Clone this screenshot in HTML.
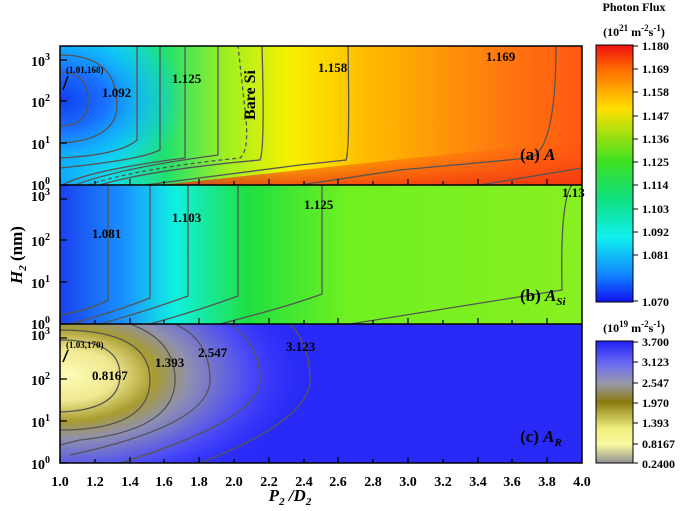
<!DOCTYPE html>
<html><head><meta charset="utf-8"><style>
html,body{margin:0;background:#fff;overflow:hidden;width:685px;height:511px}
svg{display:block}
svg text{font-family:"Liberation Serif",serif;font-weight:bold}
</style></head><body>
<svg width="685" height="511" viewBox="0 0 685 511" xmlns="http://www.w3.org/2000/svg">
<defs>
<clipPath id="cpa"><rect x="60" y="46" width="522" height="139"/></clipPath>
<clipPath id="cpc"><rect x="60" y="324" width="522" height="139"/></clipPath>
<linearGradient id="ga" x1="0" x2="1" y1="0" y2="0">
<stop offset="0" stop-color="#10a0ff"/><stop offset="0.1" stop-color="#10e0e8"/><stop offset="0.2" stop-color="#20e070"/><stop offset="0.32" stop-color="#a0f020"/><stop offset="0.44" stop-color="#f8f000"/><stop offset="0.6" stop-color="#ffb800"/><stop offset="0.85" stop-color="#ff7810"/><stop offset="1" stop-color="#ff5810"/></linearGradient>
<radialGradient id="ra"><stop offset="0" stop-color="#1040f0"/><stop offset="0.35" stop-color="#1a70ff"/><stop offset="0.65" stop-color="#10b0ff" stop-opacity="0.7"/><stop offset="1" stop-color="#10d0ff" stop-opacity="0"/></radialGradient>
<linearGradient id="gar" x1="0" x2="0" y1="0" y2="1"><stop offset="0" stop-color="#ff5010" stop-opacity="0"/><stop offset="1" stop-color="#f03010" stop-opacity="0.8"/></linearGradient>
<linearGradient id="gb" x1="0" x2="1" y1="0" y2="0">
<stop offset="0" stop-color="#1a40f0"/><stop offset="0.12" stop-color="#1a90ff"/><stop offset="0.22" stop-color="#10f0e0"/><stop offset="0.36" stop-color="#20e040"/><stop offset="0.55" stop-color="#70f020"/><stop offset="1" stop-color="#88f020"/></linearGradient>
<radialGradient id="rc"><stop offset="0" stop-color="#fdfdb8"/><stop offset="0.2" stop-color="#f0e890"/><stop offset="0.36" stop-color="#a89c30"/><stop offset="0.5" stop-color="#9090b0"/><stop offset="0.75" stop-color="#4a4af8"/><stop offset="1" stop-color="#2a2af8" stop-opacity="0"/></radialGradient>
<linearGradient id="c1" x1="0" x2="0" y1="0" y2="1">
<stop offset="0" stop-color="#f01010"/><stop offset="0.1" stop-color="#ff7000"/><stop offset="0.25" stop-color="#ffe000"/><stop offset="0.45" stop-color="#40e020"/><stop offset="0.6" stop-color="#10e080"/><stop offset="0.75" stop-color="#10f0f0"/><stop offset="0.9" stop-color="#1080ff"/><stop offset="1" stop-color="#1010f0"/></linearGradient>
<linearGradient id="c2" x1="0" x2="0" y1="0" y2="1">
<stop offset="0" stop-color="#2020f8"/><stop offset="0.2" stop-color="#7070f0"/><stop offset="0.35" stop-color="#9898a8"/><stop offset="0.5" stop-color="#8a7a10"/><stop offset="0.72" stop-color="#f0f080"/><stop offset="0.85" stop-color="#f8f8a0"/><stop offset="1" stop-color="#909090"/></linearGradient>
</defs>
<g clip-path="url(#cpa)">
<rect x="60" y="46" width="522" height="139" fill="url(#ga)"/>
<ellipse cx="62" cy="100" rx="125" ry="85" fill="url(#ra)"/>
<path d="M160,185 L582,140 L582,185 Z" fill="url(#gar)"/>
</g>
<g fill="none" stroke="#555" stroke-width="1.3">
<path d="M60,72 Q88,72 88,100 Q88,126 60,126"/>
<path d="M60,55 Q117,55 117,105 Q117,140 60,143"/>
<path d="M60,158 Q120,155 137,140 L137,46"/>
<path d="M60,168 Q140,160 160,150 L160,46"/>
<path d="M62,185 Q90,170 185,158 L185,46"/>
<path d="M75,185 Q120,168 218,155 L218,46"/>
<path d="M88,185 Q140,168 240,158 Q250,150 245,110 L238,46" stroke-dasharray="4,3"/>
<path d="M100,185 Q150,170 260,160 Q265,150 262,46"/>
<path d="M145,185 L300,165 L346,160 Q350,150 348,46"/>
<path d="M300,185 L400,170 L530,158 Q556,150 556,46"/>
<path d="M480,185 L582,168"/>
</g>
<rect x="60" y="185" width="522" height="139" fill="url(#gb)"/>
<g fill="none" stroke="#555" stroke-width="1.3">
<path d="M108,185 L108,300 Q90,310 60,315"/>
<path d="M150,185 L150,298 Q120,310 70,324"/>
<path d="M188,185 L188,296 Q150,310 100,324"/>
<path d="M238,185 L238,296 Q200,310 150,324"/>
<path d="M322,185 L322,294 Q290,306 220,324"/>
<path d="M572,185 Q560,200 562,290 Q500,300 350,324"/>
</g>
<g clip-path="url(#cpc)">
<rect x="60" y="324" width="522" height="139" fill="#2a2af8"/>
<ellipse cx="66" cy="375" rx="245" ry="128" fill="url(#rc)"/>
</g>
<g fill="none" stroke="#555" stroke-width="1.3">
<path d="M60,340 Q120,340 120,375 Q120,410 60,412"/>
<path d="M60,330 Q150,330 150,380 Q150,430 60,430"/>
<path d="M130,324 Q175,340 175,380 Q175,430 80,440 L60,445"/>
<path d="M175,324 Q210,340 210,380 Q210,425 70,455"/>
<path d="M230,324 Q260,345 260,380 Q260,420 120,463"/>
<path d="M290,324 Q310,345 310,380 Q310,420 200,463"/>
</g>
<g fill="none" stroke="#000" stroke-width="1.5">
<rect x="60" y="46" width="522" height="417"/>
<line x1="60" y1="185" x2="582" y2="185"/><line x1="60" y1="324" x2="582" y2="324"/>
</g>
<g stroke="#000" stroke-width="1.2">
<path d="M60,185v-6M95,185v-4M130,185v-6M164,185v-4M199,185v-6M234,185v-4M269,185v-6M304,185v-4M338,185v-6M373,185v-4M408,185v-6M443,185v-4M478,185v-6M512,185v-4M547,185v-6"/>
<path d="M60,324v-6M95,324v-4M130,324v-6M164,324v-4M199,324v-6M234,324v-4M269,324v-6M304,324v-4M338,324v-6M373,324v-4M408,324v-6M443,324v-4M478,324v-6M512,324v-4M547,324v-6"/>
<path d="M60,463v-6M95,463v-4M130,463v-6M164,463v-4M199,463v-6M234,463v-4M269,463v-6M304,463v-4M338,463v-6M373,463v-4M408,463v-6M443,463v-4M478,463v-6M512,463v-4M547,463v-6"/>
<path d="M60,60h7M60,101h7M60,143h7M60,185h7M60,199h7M60,240h7M60,282h7M60,324h7M60,338h7M60,379h7M60,421h7M60,463h7"/>
</g>
<g font-size="14" text-anchor="middle" fill="#000">
<text x="60" y="486">1.0</text><text x="95" y="486">1.2</text><text x="130" y="486">1.4</text><text x="164" y="486">1.6</text><text x="199" y="486">1.8</text><text x="234" y="486">2.0</text><text x="269" y="486">2.2</text><text x="304" y="486">2.4</text><text x="338" y="486">2.6</text><text x="373" y="486">2.8</text><text x="408" y="486">3.0</text><text x="443" y="486">3.2</text><text x="478" y="486">3.4</text><text x="512" y="486">3.6</text><text x="547" y="486">3.8</text><text x="582" y="486">4.0</text>
</g>
<g font-size="14" text-anchor="end">
<text x="50" y="66">10<tspan font-size="10" dy="-6">3</tspan></text>
<text x="50" y="107">10<tspan font-size="10" dy="-6">2</tspan></text>
<text x="50" y="149">10<tspan font-size="10" dy="-6">1</tspan></text>
<text x="50" y="190">10<tspan font-size="10" dy="-6">0</tspan></text>
<text x="50" y="201">10<tspan font-size="10" dy="-6">3</tspan></text>
<text x="50" y="246">10<tspan font-size="10" dy="-6">2</tspan></text>
<text x="50" y="288">10<tspan font-size="10" dy="-6">1</tspan></text>
<text x="50" y="329">10<tspan font-size="10" dy="-6">0</tspan></text>
<text x="50" y="340">10<tspan font-size="10" dy="-6">3</tspan></text>
<text x="50" y="385">10<tspan font-size="10" dy="-6">2</tspan></text>
<text x="50" y="427">10<tspan font-size="10" dy="-6">1</tspan></text>
<text x="50" y="469">10<tspan font-size="10" dy="-6">0</tspan></text>
</g>
<text x="290" y="501" font-size="17" font-style="italic" text-anchor="middle">P<tspan font-size="11" dy="4">2</tspan><tspan dy="-4"> /D</tspan><tspan font-size="11" dy="4">2</tspan></text>
<text transform="translate(22,255) rotate(-90)" font-size="17" text-anchor="middle"><tspan font-style="italic">H</tspan><tspan font-size="11" font-style="italic" dy="4">2</tspan><tspan dy="-4"> (nm)</tspan></text>
<g font-size="13">
<text x="102" y="97">1.092</text><text x="172" y="83">1.125</text><text x="318" y="72">1.158</text><text x="486" y="61">1.169</text>
<text x="92" y="238">1.081</text><text x="172" y="222">1.103</text><text x="304" y="209">1.125</text><text x="562" y="197">1.13</text>
<text x="92" y="380">0.8167</text><text x="155" y="367">1.393</text><text x="198" y="357">2.547</text><text x="286" y="351">3.123</text>
<text x="66" y="73" font-size="9">(1.01,168)</text><text x="66" y="348" font-size="9">(1.03,170)</text>
<text transform="translate(255,95) rotate(-90)" font-size="16" text-anchor="middle">Bare Si</text>
<text x="520" y="160" font-size="17">(a) <tspan font-style="italic">A</tspan></text>
<text x="520" y="301" font-size="17">(b) <tspan font-style="italic">A</tspan><tspan font-style="italic" font-size="11" dy="4">Si</tspan></text>
<text x="520" y="442" font-size="17">(c) <tspan font-style="italic">A</tspan><tspan font-style="italic" font-size="11" dy="4">R</tspan></text>
</g>
<path d="M63,90 L68,76" stroke="#000" stroke-width="1.5"/><path d="M63,362 L68,350" stroke="#000" stroke-width="1.5"/>
<rect x="596" y="45" width="37" height="257" fill="url(#c1)" stroke="#000"/>
<rect x="596" y="341" width="37" height="122" fill="url(#c2)" stroke="#000"/>
<g font-size="12" text-anchor="middle"><text x="634" y="11">Photon Flux</text>
<text x="634" y="36">(10<tspan font-size="9" dy="-5">21</tspan><tspan dy="5"> m</tspan><tspan font-size="9" dy="-5">-2</tspan><tspan dy="5">s</tspan><tspan font-size="9" dy="-5">-1</tspan><tspan dy="5">)</tspan></text>
<text x="634" y="332">(10<tspan font-size="9" dy="-5">19</tspan><tspan dy="5"> m</tspan><tspan font-size="9" dy="-5">-2</tspan><tspan dy="5">s</tspan><tspan font-size="9" dy="-5">-1</tspan><tspan dy="5">)</tspan></text></g>
<g font-size="12">
<text x="642" y="50">1.180</text><text x="642" y="73">1.169</text><text x="642" y="96">1.158</text><text x="642" y="120">1.147</text><text x="642" y="143">1.136</text><text x="642" y="166">1.125</text><text x="642" y="189">1.114</text><text x="642" y="213">1.103</text><text x="642" y="236">1.092</text><text x="642" y="259">1.081</text><text x="642" y="306">1.070</text>
<text x="642" y="346">3.700</text><text x="642" y="366">3.123</text><text x="642" y="387">2.547</text><text x="642" y="407">1.970</text><text x="642" y="427">1.393</text><text x="642" y="448">0.8167</text><text x="642" y="468">0.2400</text>
</g>
<g stroke="#000"><path d="M633,46h5M633,69h5M633,92h5M633,116h5M633,139h5M633,162h5M633,185h5M633,209h5M633,232h5M633,255h5M633,301h5M633,342h5M633,362h5M633,383h5M633,403h5M633,423h5M633,444h5M633,463h5"/></g>
</svg>
</body></html>
